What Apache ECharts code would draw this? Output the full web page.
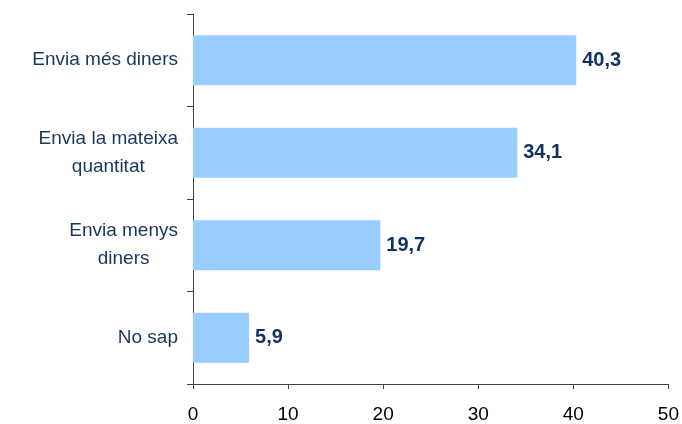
<!DOCTYPE html>
<html>
<head>
<meta charset="utf-8">
<script src="https://cdn.jsdelivr.net/npm/echarts@6/dist/echarts.min.js"></script>
<style>
  html, body { margin: 0; padding: 0; background: #fff; }
  #chart { width: 682px; height: 424px; }
</style>
</head>
<body>
<div id="chart"></div>
<script>
// categories top to bottom
const categories = ["Envia més diners", "Envia la mateixa\nquantitat", "Envia menys\ndiners", "No sap"];
const values = [40.3, 34.1, 19.7, 5.9];

const chart = echarts.init(document.getElementById("chart"));

const labelColor = "#17375E";
const font = "'Liberation Sans', Arial, sans-serif";

chart.setOption({
    animation: false,
    grid: { left: 193, right: 12, top: 14, bottom: 39 },
    xAxis: {
        type: "value",
        min: 0,
        max: 50,
        interval: 10,
        axisLine: { show: true, lineStyle: { color: "#404040", width: 1 } },
        axisTick: { show: true, length: 5, lineStyle: { color: "#404040" } },
        splitLine: { show: false },
        axisLabel: { color: "#000", fontFamily: font, fontSize: 19, margin: 21 },
    },
    yAxis: {
        type: "category",
        inverse: true,
        data: categories,
        axisLine: { show: true, lineStyle: { color: "#404040", width: 1 } },
        axisTick: { show: true, length: 6, lineStyle: { color: "#404040" } },
        axisLabel: {
            margin: 15,
            formatter: (v) => v.split("\n").map((l) => "{c|" + l + "}").join("\n"),
            rich: {
                c: { color: labelColor, fontFamily: font, fontSize: 19, align: "center", lineHeight: 28 },
            },
        },
    },
    series: [
        {
            type: "bar",
            data: values,
            barWidth: "54%",
            itemStyle: { color: "#99CCFF" },
            label: {
                show: true,
                position: "right",
                distance: 6,
                color: "#10325E",
                fontFamily: font,
                fontSize: 20,
                fontWeight: "bold",
                formatter: (p) => p.value.toFixed(1).replace(".", ","),
            },
        },
    ],
});
</script>
</body>
</html>
